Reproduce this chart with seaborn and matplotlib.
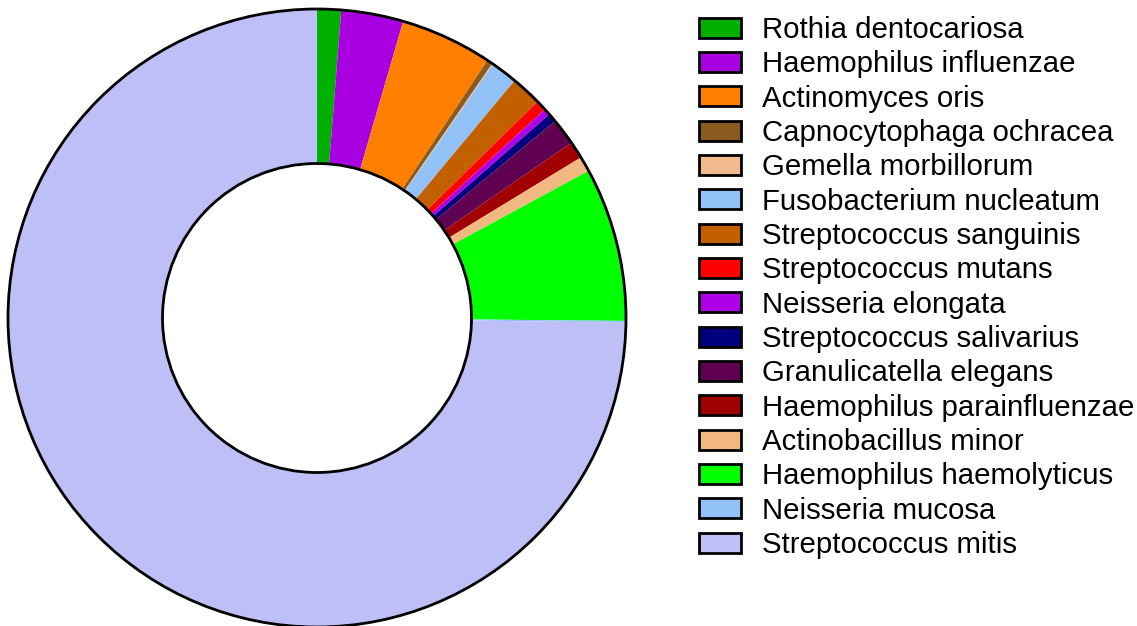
import matplotlib
matplotlib.use("Agg")
import matplotlib.pyplot as plt
from matplotlib.patches import Patch, Circle
import seaborn as sns

sns.set_theme(style="white")
plt.rcParams["font.family"] = ["Liberation Sans", "DejaVu Sans"]
plt.rcParams["text.color"] = "black"

species = [
    "Rothia dentocariosa",
    "Haemophilus influenzae",
    "Actinomyces oris",
    "Capnocytophaga ochracea",
    "Gemella morbillorum",
    "Fusobacterium nucleatum",
    "Streptococcus sanguinis",
    "Streptococcus mutans",
    "Neisseria elongata",
    "Streptococcus salivarius",
    "Granulicatella elegans",
    "Haemophilus parainfluenzae",
    "Actinobacillus minor",
    "Haemophilus haemolyticus",
    "Neisseria mucosa",
    "Streptococcus mitis",
]

# relative abundance (%)
abundance = [1.25, 3.25, 4.8, 0.3, 0.05, 1.4, 1.6, 0.55, 0.35, 0.45,
             1.4, 0.9, 0.8, 8.05, 0.1, 74.75]

colors = [
    "#00B000", "#A800E0", "#FF8000", "#8B5A1E", "#F2B98C", "#92C2F8",
    "#C26000", "#FF0000", "#B000E8", "#00007F", "#600050", "#A00000",
    "#F2B882", "#00FF00", "#92C2F8", "#BFBFF8",
]

W, H = 1137, 626
fig = plt.figure(figsize=(W / 100, H / 100), dpi=100)

cx, cy, r_px = 317, 318, 309
lim = 1.03
half = r_px * lim
ax = fig.add_axes([(cx - half) / W, (H - cy - half) / H, 2 * half / W, 2 * half / H])

wedges, _ = ax.pie(
    abundance,
    colors=colors,
    startangle=90,
    counterclock=False,
    radius=1.0,
    wedgeprops=dict(width=0.5, linewidth=0, edgecolor="none", antialiased=True),
)
for w in wedges:
    w.set_clip_on(False)

for rad in (1.0, 0.5):
    ring = Circle((0, 0), rad, fill=False, edgecolor="black", linewidth=2.0, clip_on=False)
    ax.add_patch(ring)

ax.set_xlim(-lim, lim)
ax.set_ylim(-lim, lim)
ax.set_aspect("equal")
ax.axis("off")

handles = [Patch(facecolor=c, edgecolor="black", linewidth=2.0) for c in colors]
leg = fig.legend(
    handles,
    species,
    loc="upper left",
    bbox_to_anchor=(699 / W, (H - 16) / H),
    frameon=False,
    fontsize=21.2,
    handlelength=1.43,
    handleheight=0.68,
    handletextpad=0.71,
    labelspacing=0.215,
    borderpad=0,
    borderaxespad=0,
)
for t in leg.get_texts():
    t.set_color("black")

fig.savefig("out.png", dpi=100)
